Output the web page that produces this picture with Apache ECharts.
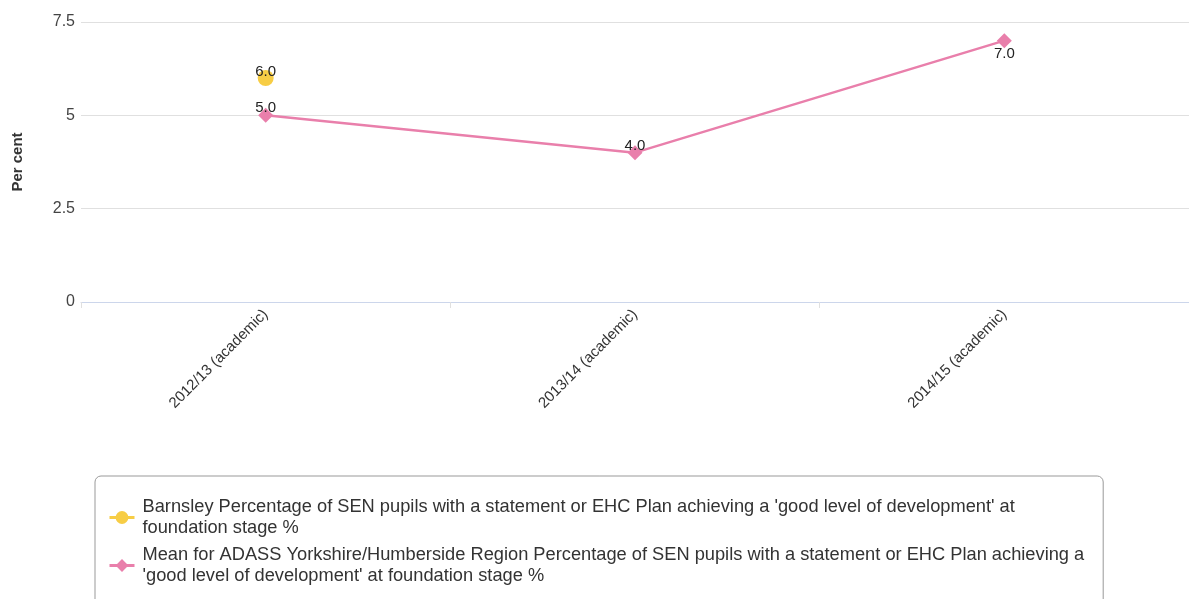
<!DOCTYPE html>
<html>
<head>
<meta charset="utf-8">
<script src="https://cdn.jsdelivr.net/npm/echarts@6/dist/echarts.min.js"></script>
<style>
  html, body { margin: 0; padding: 0; background: #fff; }
  #chart { width: 1189px; height: 599px; }
</style>
</head>
<body>
<div id="chart"></div>
<script>
// categories on the x axis
const years = ['2012/13 (academic)', '2013/14 (academic)', '2014/15 (academic)']
// series values (per cent)
const barnsley = [6.0, null, null]
const regionMean = [5.0, 4.0, 7.0]
// y axis ticks
const yMin = 0
const yMax = 7.5
const yStep = 2.5

const seriesNames = [
  "Barnsley Percentage of SEN pupils with a statement or EHC Plan achieving a 'good level of development' at foundation stage %",
  "Mean for ADASS Yorkshire/Humberside Region Percentage of SEN pupils with a statement or EHC Plan achieving a 'good level of development' at foundation stage %"
]
// where the legend text wraps in the picture
const legendLines = {}
legendLines[seriesNames[0]] = "Barnsley Percentage of SEN pupils with a statement or EHC Plan achieving a 'good level of development' at\nfoundation stage %"
legendLines[seriesNames[1]] = "Mean for ADASS Yorkshire/Humberside Region Percentage of SEN pupils with a statement or EHC Plan achieving a\n'good level of development' at foundation stage %"

const font = "'Liberation Sans', Arial, sans-serif"

const chart = echarts.init(document.getElementById('chart'))
const option = {
  animation: false,
  textStyle: { fontFamily: font },
  grid: { left: 81, right: -5, top: 22, bottom: 297, containLabel: false },
  legend: {
    orient: 'vertical',
    left: 95,
    top: 476,
    height: 200, // let it run past the bottom edge instead of wrapping into columns
    padding: [10, 19, 12, 13],
    itemGap: -15,
    itemWidth: 25,
    itemHeight: 16,
    lineStyle: { width: 3 },
    borderColor: '#999',
    borderWidth: 1,
    borderRadius: 6,
    textStyle: {
      fontFamily: font,
      fontSize: 18.25,
      color: '#333',
      lineHeight: 21,
      padding: [21, 0, 0, 3]
    },
    formatter: function (name) { return legendLines[name] },
    data: seriesNames
  },
  xAxis: {
    type: 'category',
    data: years,
    boundaryGap: true,
    axisLine: { lineStyle: { color: '#ccd6eb' } },
    axisTick: { show: true, length: 6, lineStyle: { color: '#e0e0e0' } },
    axisLabel: { rotate: 45, fontSize: 15, color: '#333', margin: 10, fontFamily: font }
  },
  yAxis: {
    type: 'value',
    min: yMin,
    max: yMax,
    interval: yStep,
    name: 'Per cent',
    nameLocation: 'middle',
    nameGap: 56,
    nameRotate: 90,
    nameTextStyle: { fontSize: 15, fontWeight: 'bold', color: '#333', fontFamily: font },
    axisLine: { show: false },
    axisTick: { show: false },
    axisLabel: { fontSize: 16, color: '#444', margin: 6, fontFamily: font },
    splitLine: { lineStyle: { color: '#e0e0e0' } }
  },
  series: [
    {
      name: seriesNames[0],
      type: 'line',
      data: barnsley,
      symbol: 'circle',
      symbolSize: 16,
      color: '#f7cd45',
      lineStyle: { width: 2, color: '#f7cd45' },
      label: {
        show: true,
        position: 'top',
        distance: -9,
        fontSize: 15,
        color: '#222',
        formatter: function (p) { return p.value.toFixed(1) }
      }
    },
    {
      name: seriesNames[1],
      type: 'line',
      data: regionMean.map(function (v, i) {
        // last point has its label under the marker
        return i === regionMean.length - 1
          ? { value: v, label: { position: 'bottom', distance: -2 } }
          : v
      }),
      symbol: 'diamond',
      symbolSize: 15,
      color: '#e97fab',
      lineStyle: { width: 2.5, color: '#e97fab' },
      label: {
        show: true,
        position: 'top',
        distance: -8,
        fontSize: 15,
        color: '#222',
        formatter: function (p) { return p.value.toFixed(1) }
      }
    }
  ]
}
chart.setOption(option)
</script>
</body>
</html>
